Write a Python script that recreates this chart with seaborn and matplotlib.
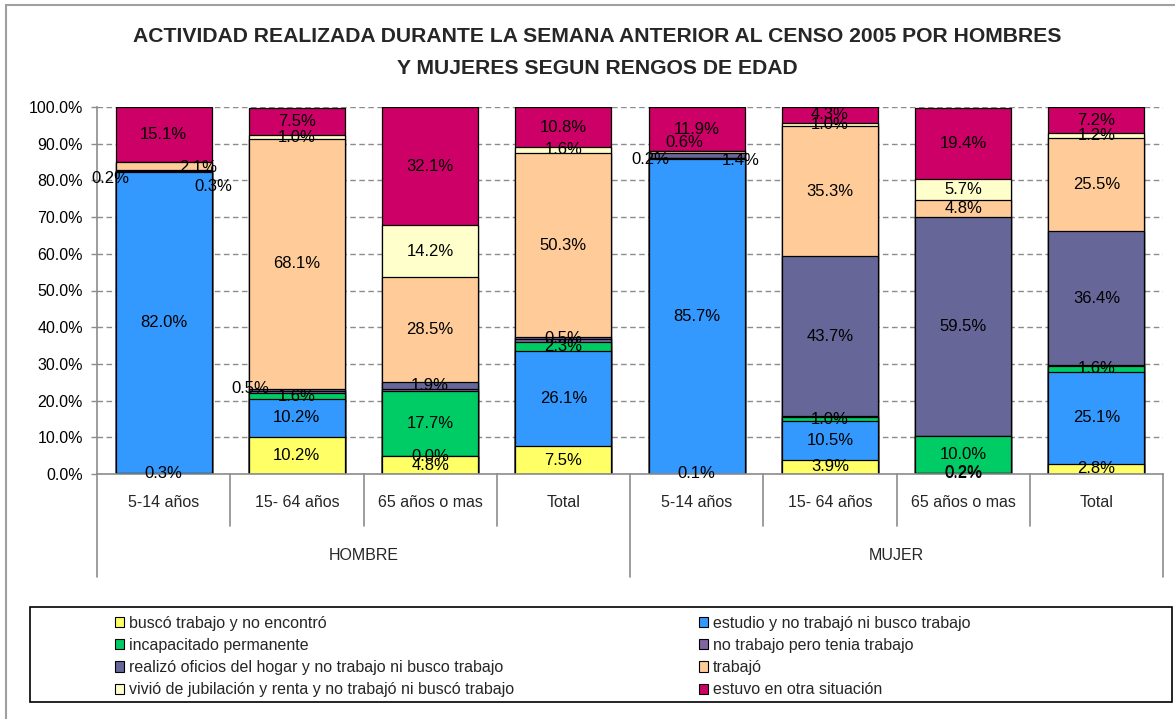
import numpy as np
import seaborn as sns
import matplotlib.pyplot as plt
from matplotlib.patches import Patch, Rectangle
from matplotlib.lines import Line2D

sns.set_theme(style="white")
plt.rcParams["font.family"] = ["Liberation Sans", "DejaVu Sans"]

TITLE_1 = "ACTIVIDAD REALIZADA DURANTE LA SEMANA ANTERIOR AL CENSO 2005 POR HOMBRES"
TITLE_2 = "Y MUJERES SEGUN RENGOS DE EDAD"

groups = ["HOMBRE", "MUJER"]
ages = ["5-14 años", "15- 64 años", "65 años o mas", "Total"]

series = [
    "buscó trabajo y no encontró",
    "estudio y no trabajó ni busco trabajo",
    "incapacitado permanente",
    "no trabajo pero tenia trabajo",
    "realizó oficios del hogar y no trabajo ni busco trabajo",
    "trabajó",
    "vivió de jubilación y renta y no trabajó ni buscó trabajo",
    "estuvo en otra situación",
]
colors = ["#FFFF66", "#3399FF", "#00CC66", "#8066A0", "#666699", "#FFCC99", "#FFFFCC", "#CC0066"]

nan = np.nan
# hombre (4 age groups) then mujer (4 age groups)
busco = [0.3, 10.2, 4.8, 7.5, 0.1, 3.9, 0.2, 2.8]
estudio = [82.0, 10.2, 0.0, 26.1, 85.7, 10.5, 0.2, 25.1]
incapacitado = [0.2, 1.6, 17.7, 2.3, 0.2, 1.0, 10.0, 1.6]
no_trabajo = [nan, 0.7, 0.7, 0.8, nan, 0.3, nan, 0.2]
hogar = [0.3, 0.5, 1.9, 0.5, 1.4, 43.7, 59.5, 36.4]
trabajo = [2.1, 68.1, 28.5, 50.3, 0.6, 35.3, 4.8, 25.5]
jubilacion = [nan, 1.0, 14.2, 1.6, nan, 1.0, 5.7, 1.2]
otra = [15.1, 7.5, 32.1, 10.8, 11.9, 4.3, 19.4, 7.2]

values = np.array([busco, estudio, incapacitado, no_trabajo, hogar, trabajo, jubilacion, otra], dtype=float)
show_label = [True, True, True, False, True, True, True, True]

# labels that were nudged by hand in the original (series, bar): (dx, dy)
label_nudge = {
    (2, 0): (-0.40, -2.0),
    (4, 0): (0.37, -4.4),
    (5, 0): (0.26, -0.3),
    (4, 1): (-0.35, 0.35),
    (2, 4): (-0.35, -0.3),
    (4, 4): (0.33, -1.2),
    (5, 4): (-0.09, 2.5),
}

keys = [f"{g}|{a}" for g in groups for a in ages]
filled = np.nan_to_num(values)
cum = filled.cumsum(axis=0)

fig = plt.figure(figsize=(11.75, 7.19), dpi=100)
ax = fig.add_axes([97 / 1175, 1 - 474 / 719, 1066 / 1175, 367 / 719])

# stacked bars: draw cumulative heights from the top series down
for i in range(len(series) - 1, -1, -1):
    sns.barplot(x=keys, y=cum[i], color=colors[i], saturation=1, width=0.72,
                edgecolor="black", linewidth=0.9, errorbar=None, ax=ax, zorder=2)

for i in range(len(series)):
    if not show_label[i]:
        continue
    for j in range(len(keys)):
        v = values[i, j]
        if np.isnan(v):
            continue
        dx, dy = label_nudge.get((i, j), (0, 0))
        y = cum[i, j] - filled[i, j] / 2 + dy
        ax.text(j + dx, y, f"{v:.1f}%", ha="center", va="center", fontsize=12,
                color="black", zorder=5)

ax.set_ylim(0, 100)
ax.set_xlim(-0.5, 7.5)
ax.set_yticks(np.arange(0, 101, 10))
ax.set_yticklabels([f"{t:.1f}%" for t in np.arange(0, 101, 10)], fontsize=11.5)
ax.set_xticks([])
ax.set_xlabel("")
ax.set_ylabel("")
ax.yaxis.grid(True, linestyle=(0, (4, 2.5)), color="#8C8C8C", linewidth=1.0)
ax.set_axisbelow(True)
ax.tick_params(axis="y", left=True, length=4, width=1, color="#8C8C8C", pad=6, labelcolor="black")
for s in ["top", "right"]:
    ax.spines[s].set_visible(False)
for s in ["left", "bottom"]:
    ax.spines[s].set_color("#8C8C8C")
    ax.spines[s].set_linewidth(1.2)

# category axis labels and separators below the plot
xt = ax.get_xaxis_transform()
for j, key in enumerate(keys):
    ax.text(j, -0.079, key.split("|")[1], transform=xt, ha="center", va="center", fontsize=11.5)
for k, g in enumerate(groups):
    ax.text(1.5 + 4 * k, -0.221, g, transform=xt, ha="center", va="center", fontsize=11.5)
for b in np.arange(-0.5, 8, 1.0):
    low = -0.281 if b in (-0.5, 3.5, 7.5) else -0.142
    ax.add_line(Line2D([b, b], [0, low], transform=xt, color="#8C8C8C", lw=1.2, clip_on=False))

fig.text(0.508, 1 - 37 / 719, TITLE_1, ha="center", va="center", fontsize=15.2, fontweight="bold")
fig.text(0.508, 1 - 69 / 719, TITLE_2, ha="center", va="center", fontsize=15.2, fontweight="bold")

# legend: two columns inside one framed box
handles = [Patch(facecolor=c, edgecolor="black", linewidth=0.8) for c in colors]
fig.add_artist(Rectangle((30 / 1175, 1 - 702 / 719), 1142 / 1175, 95 / 719, transform=fig.transFigure,
                         facecolor="none", edgecolor="black", linewidth=1.2))
for col, x0 in enumerate([102 / 1175, 686 / 1175]):
    idx = [col, col + 2, col + 4, col + 6]
    fig.legend([handles[i] for i in idx], [series[i] for i in idx], loc="upper left",
               bbox_to_anchor=(x0, 1 - 603 / 719), frameon=False, fontsize=11.5,
               handlelength=0.6, handleheight=0.6, handletextpad=0.3, labelspacing=0.45,
               borderpad=0.3)

fig.add_artist(Rectangle((6 / 1175, -0.02), 1.2, 1.02 - 5 / 719, transform=fig.transFigure,
                         facecolor="none", edgecolor="#A0A0A0", linewidth=1.5))

fig.savefig("out.png", dpi=100)
